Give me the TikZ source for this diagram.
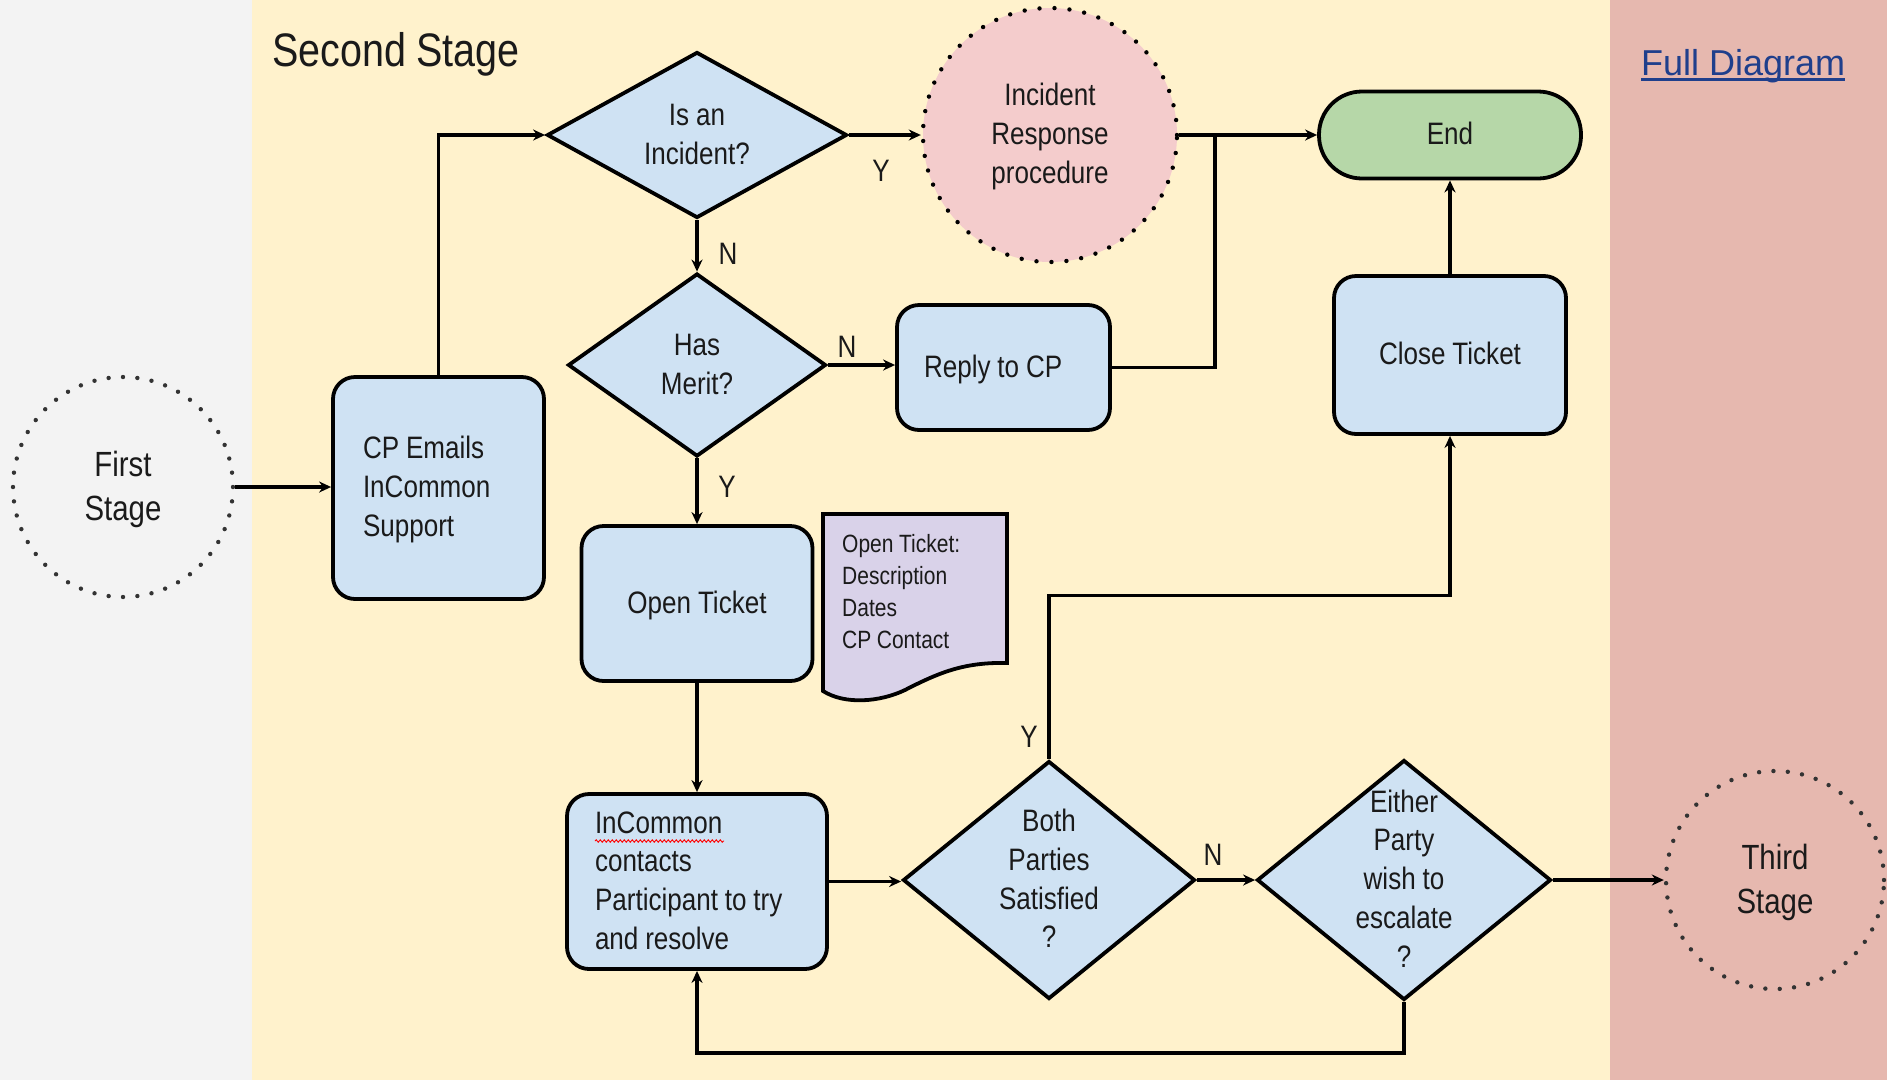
\documentclass[tikz,border=0pt]{standalone}
\usepackage{fontspec}
\setmainfont{Liberation Sans}[FakeStretch=0.84,WordSpace=0.95]
\newfontfamily\linkfont{Liberation Sans}
\usetikzlibrary{shapes.geometric,arrows.meta,decorations.pathmorphing}
\definecolor{bggray}{HTML}{F3F3F3}
\definecolor{bgyellow}{HTML}{FFF2CC}
\definecolor{bgpink}{HTML}{E6B8AF}
\definecolor{boxblue}{HTML}{CFE2F3}
\definecolor{endgreen}{HTML}{B6D7A8}
\definecolor{irpink}{HTML}{F4CCCC}
\definecolor{docpurple}{HTML}{D9D2E9}
\definecolor{txtc}{HTML}{1A1A1A}
\definecolor{linkc}{HTML}{1F3F8C}
\definecolor{dotc}{HTML}{333333}
\newcommand{\gs}{\rule[-9.7pt]{0pt}{38.7pt}}
\newcommand{\gss}{\rule[-11pt]{0pt}{44pt}}
\newcommand{\gsd}{\rule[-8pt]{0pt}{32pt}}
\newcommand{\nsp}{\spaceskip=0pt\xspaceskip=0pt\relax}
\begin{document}
\begin{tikzpicture}[x=1pt,y=-1pt,
  gtext/.style={font=\fontsize{31}{38.7}\selectfont, text=txtc},
  gbox/.style={gtext, draw=black, line width=3.8pt, fill=boxblue, rounded corners=22pt, inner sep=0pt},
  dia/.style={draw=black, line width=3.8pt, fill=boxblue, diamond, inner sep=0pt},
  dtxt/.style={gtext, align=center, inner sep=0pt},
  stagecirc/.style={circle, draw=dotc, line width=4.4pt, dash pattern=on 0pt off 14.4pt, line cap=round, inner sep=0pt, align=center, font=\fontsize{35}{44}\selectfont, text=txtc},
  arr/.style={line width=3.2pt, -{Stealth[length=12pt,width=11pt]}},
  conn/.style={line width=3.2pt},
  lbl/.style={gtext, inner sep=0pt},
]
% backgrounds
\fill[bggray] (0,0) rectangle (252,1080);
\fill[bgyellow] (252,0) rectangle (1610,1080);
\fill[bgpink] (1610,0) rectangle (1887,1080);
\useasboundingbox (0,0) rectangle (1887,1080);

% titles
\node[gtext, anchor=base west, inner sep=0pt, font=\fontsize{47}{56}\selectfont] (title) at (272,66) {Second Stage};
\node[anchor=base west, inner sep=0pt, text=linkc, font=\linkfont\fontsize{36}{43}\selectfont] (full) at (1641,75) {Full Diagram};
\draw[linkc, line width=2.5pt] ([yshift=-4.5pt]full.base west) -- ([yshift=-4.5pt]full.base east);

% nodes
\node[stagecirc, minimum size=220pt] (first) at (123,487) {\gss First\\Stage\gss};
\node[gbox, minimum width=211pt, minimum height=222pt, text width=151pt, align=left, inner xsep=30pt] (cp) at (438.5,488) {\nsp\gs CP Emails\\InCommon\\Support\gs};
\node[dia, minimum width=300pt, minimum height=166pt, label={[dtxt]center:{\gs Is an\\Incident?\gs}}] (inc) at (697,135) {};
\node[dia, minimum width=258pt, minimum height=183pt, label={[dtxt]center:{\gs Has\\Merit?\gs}}] (merit) at (697,365) {};
\node[gbox, minimum width=231pt, minimum height=155pt] (open) at (697,603.5) {\gs Open Ticket\gs};
\node[gbox, minimum width=260pt, minimum height=175pt, text width=204pt, align=left, inner xsep=28pt] (incommon) at (697,881.5) {\nsp\gs InCommon\\contacts\\Participant to try\\and resolve\gs};
\node[gbox, minimum width=213pt, minimum height=125pt, text width=159pt, align=left, inner xsep=27pt] (reply) at (1003.5,367.5) {\nsp\gs Reply to CP\gs};
\node[gbox, minimum width=232pt, minimum height=158pt] (close) at (1450,355) {\gs Close Ticket\gs};
\node[gbox, fill=endgreen, rounded corners=43pt, minimum width=262pt, minimum height=87pt] (end) at (1450,135) {\gs End\gs};
\node[gtext, circle, draw=black, fill=irpink, line width=4.4pt, dash pattern=on 0pt off 15pt, line cap=round, minimum size=254pt, inner sep=0pt, align=center] (irp) at (1050,135) {\gs Incident\\Response\\procedure\gs};
\node[dia, minimum width=292pt, minimum height=238pt, label={[dtxt]center:{\gs Both\\Parties\\Satisfied\\?\gs}}] (both) at (1049,880) {};
\node[dia, minimum width=294pt, minimum height=240pt, label={[dtxt]center:{\gs Either\\Party\\wish to\\escalate\\?\gs}}] (either) at (1404,880) {};
\node[stagecirc, minimum size=218pt] (third) at (1775,880) {\gss Third\\Stage\gss};

% document shape
\draw[line width=3.8pt, fill=docpurple, line join=miter] (823,514) -- (1007,514) -- (1007,663)
  .. controls (965,662) and (940,672) .. (905,690)
  .. controls (880,702) and (845,705) .. (823,691) -- cycle;
\node[gtext, font=\fontsize{25}{32}\selectfont, align=left, anchor=west, inner sep=0pt] (doctext) at (842,592) {\nsp\gsd Open Ticket:\\Description\\Dates\\CP Contact\gsd};

% spell-check squiggle
\draw[red, line width=0.9pt, decorate, decoration={snake, amplitude=1.2pt, segment length=4pt}] (595,841) -- (724,841);

% connectors
\draw[arr] (first.east) -- (first.east -| cp.west);
\draw[arr] (cp.north) |- (inc.west);
\draw[arr] (inc.east) -- (irp.west);
\draw[arr] (inc.south) -- (merit.north);
\draw[arr] (merit.east) -- (merit.east -| reply.west);
\draw[arr] (merit.south) -- (open.north);
\draw[arr] (open.south) -- (incommon.north);
\draw[arr] (incommon.east) -- (incommon.east -| both.west);
\draw[arr] (both.east) -- (either.west);
\draw[arr] (either.east) -- (third.west);
\draw[arr] (either.south) -- ++(0,51) -| (incommon.south);
\draw[arr] (both.north) -- ++(0,-164) -| (close.south);
\draw[arr] (close.north) -- (end.south);
\draw[arr] (irp.east) -- (end.west);
\coordinate (jn) at (1215,135);
\draw[conn] (reply.east) -| (jn);

% labels
\node[lbl] (yinc) at (881,171) {Y};
\node[lbl] (ninc) at (728,254) {N};
\node[lbl] (nmerit) at (847,347) {N};
\node[lbl] (ymerit) at (727,487) {Y};
\node[lbl] (yboth) at (1029,737) {Y};
\node[lbl] (nboth) at (1213,855) {N};
\end{tikzpicture}
\end{document}
